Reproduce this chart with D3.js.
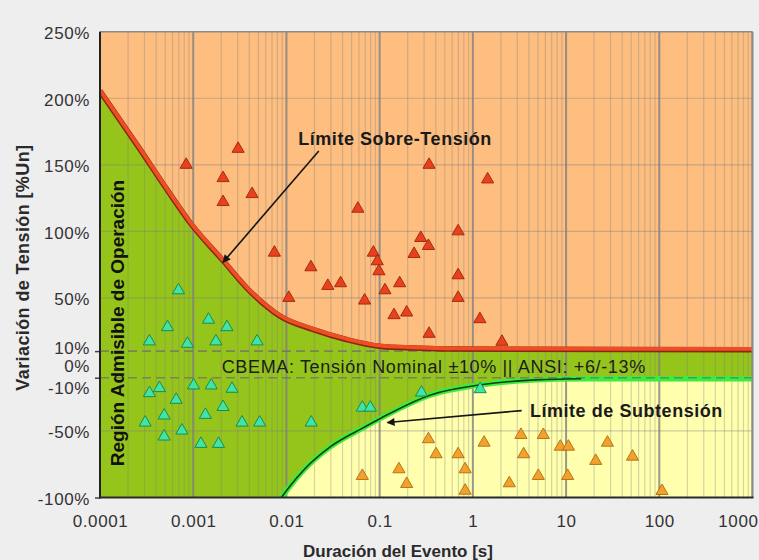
<!DOCTYPE html>
<html>
<head>
<meta charset="utf-8">
<script src="https://cdn.jsdelivr.net/npm/d3@7"></script>
<style>
  html, body { margin: 0; padding: 0; background: #eeeeee; }
  svg { display: block; font-family: "Liberation Sans", Arial, Helvetica, sans-serif; }
</style>
</head>
<body>
<svg id="chart" width="759" height="560"></svg>
<script>
// ---- axis ticks ----
const xTickValues = [0.0001, 0.001, 0.01, 0.1, 1, 10, 100, 1000];
const xTickLabels = ["0.0001", "0.001", "0.01", "0.1", "1", "10", "100", "1000"];
const yTickValues = [250, 200, 150, 100, 50, 10, 0, -10, -50, -100];
const yTickLabels = ["250%", "200%", "150%", "100%", "50%", "10%", "0%", "-10%", "-50%", "-100%"];
const yGridValues = [-50, 50, 100, 150, 200];
const toleranceBand = [10, -10];

// ---- over-voltage limit curve (duration s, % variation) ----
const overLimitDur = [0.0001, 0.000269, 0.000522, 0.000929, 0.00212, 0.0041, 0.00862, 0.0195, 0.0449, 0.1026, 0.232, 0.535, 1000];
const overLimitPct = [205.4, 161.6, 131.5, 106.4, 77.5, 54.7, 36.1, 26.1, 18.5, 13.5, 12.3, 11.5, 11];

// ---- under-voltage limit curve ----
const underLimitDur = [0.00884, 0.01104, 0.01535, 0.0297, 0.0678, 0.1026, 0.353, 1.219, 4.2, 14.5, 1000];
const underLimitPct = [-100, -91.0, -79.3, -61.8, -47.3, -40.4, -22.9, -15.3, -11.8, -10.8, -10.8];

// ---- recorded events: over-voltage ----
const overEventDur = [0.00084, 0.00303, 0.00209, 0.00209, 0.00428, 0.00743, 0.0183, 0.0106, 0.0278, 0.0381,
                      0.0584, 0.069, 0.0856, 0.0944, 0.0983, 0.114, 0.1426, 0.195, 0.164, 0.234,
                      0.276, 0.334, 0.339, 0.339, 0.695, 0.695, 0.695, 1.19, 1.44, 2.05];
const overEventPct = [150, 162, 140, 122, 128, 84, 73, 50, 59, 61,
                      117, 48, 84, 77.5, 70, 55.7, 37, 39, 61, 83,
                      95, 89, 150, 23, 100, 67, 50, 34, 139, 17];

// ---- recorded events: inside the admissible region ----
const okEventDur = [0.000695, 0.00053, 0.00146, 0.0023, 0.000339, 0.000868, 0.00175, 0.00484, 0.000339, 0.000434,
                    0.00101, 0.00156, 0.00261, 0.000656, 0.00209, 0.000488, 0.00135, 0.000305, 0.00334, 0.00516,
                    0.01844, 0.000756, 0.000488, 0.00121, 0.00187, 0.0652, 0.0794, 0.281, 1.198];
const okEventPct = [55.7, 28, 33.6, 28, 17.3, 15.5, 17.3, 17.3, -21.6, -17.8,
                    -15.8, -15.8, -18.3, -26.6, -32, -38.4, -37.9, -43.7, -43.7, -43.7,
                    -43.7, -49.7, -54.2, -59.7, -59.7, -32.5, -32.5, -21.1, -18.6];

// ---- recorded events: under-voltage ----
const underEventDur = [0.334, 1.32, 3.28, 5.7, 8.68, 10.6, 27.8, 0.403, 0.695, 3.51,
                       51.6, 20.8, 0.161, 0.826, 0.0652, 0.195, 2.46, 5.04, 10.4, 0.826, 107];
const underEventPct = [-56.2, -58.8, -53, -53, -61.8, -61.8, -58.8, -67.5, -67.5, -67.5,
                       -69.3, -72.5, -78.8, -78.8, -83.8, -89.8, -89.3, -83.8, -83.8, -94.9, -95.1];

// ---- layout ----
const W = 759, H = 560;
const plot = { left: 100, right: 752.5, top: 31.7, bottom: 497.5 };
const colors = {
  over: "#fdbe80", ok: "#95c51b", under: "#ffffae",
  overLine: "#ee4f22", overLineDark: "#8c2410",
  underHalo: "#3cec3c", underCore: "#163a12"
};

const x = d3.scaleLog().domain([1e-4, 1e3]).range([plot.left, plot.right]);
const y = d3.scaleLinear().domain([-100, 250]).range([plot.bottom, plot.top]);

const zip = (ds, ps) => ds.map((d, i) => ({ d, p: ps[i] }));
const overLimit = zip(overLimitDur, overLimitPct);
const underLimit = zip(underLimitDur, underLimitPct);

const svg = d3.select("#chart");
svg.append("rect").attr("width", W).attr("height", H).attr("fill", "#eeeeee");

const defs = svg.append("defs");
defs.append("clipPath").attr("id", "plotClip").append("rect")
  .attr("x", plot.left).attr("y", plot.top)
  .attr("width", plot.right - plot.left).attr("height", plot.bottom - plot.top);
defs.append("marker").attr("id", "arrowHead")
  .attr("viewBox", "0 0 10 10").attr("refX", 9).attr("refY", 5)
  .attr("markerWidth", 10).attr("markerHeight", 8)
  .attr("markerUnits", "userSpaceOnUse").attr("orient", "auto")
  .append("path").attr("d", "M0,0L10,5L0,10z").attr("fill", "#151515");

const body = svg.append("g").attr("clip-path", "url(#plotClip)");
const curve = d3.curveMonotoneX;

// regions
body.append("rect")
  .attr("x", plot.left).attr("y", plot.top)
  .attr("width", plot.right - plot.left).attr("height", plot.bottom - plot.top)
  .attr("fill", colors.ok);
body.append("path").datum(overLimit)
  .attr("d", d3.area().x(d => x(d.d)).y0(y(250)).y1(d => y(d.p)).curve(curve))
  .attr("fill", colors.over);
body.append("path").datum(underLimit)
  .attr("d", d3.area().x(d => x(d.d)).y0(y(-100)).y1(d => y(d.p)).curve(curve))
  .attr("fill", colors.under);

// grid
const isDecade = v => Math.abs(Math.log10(v) - Math.round(Math.log10(v))) < 1e-9;
body.append("g").selectAll("line").data(x.ticks().filter(v => !isDecade(v)))
  .join("line")
  .attr("x1", d => x(d)).attr("x2", d => x(d))
  .attr("y1", plot.top).attr("y2", plot.bottom)
  .attr("stroke", "#7d7d7d").attr("stroke-opacity", 0.32).attr("stroke-width", 1.2);
body.append("g").selectAll("line").data(yGridValues)
  .join("line")
  .attr("x1", plot.left).attr("x2", plot.right)
  .attr("y1", d => y(d)).attr("y2", d => y(d))
  .attr("stroke", "#7d7d7d").attr("stroke-opacity", 0.4).attr("stroke-width", 1.2);
body.append("g").selectAll("line").data(xTickValues)
  .join("line")
  .attr("x1", d => x(d)).attr("x2", d => x(d))
  .attr("y1", plot.top).attr("y2", plot.bottom)
  .attr("stroke", "#808080").attr("stroke-opacity", 0.8).attr("stroke-width", 2);

// under-voltage limit: green halo
const lineGen = d3.line().x(d => x(d.d)).y(d => y(d.p)).curve(curve);
body.append("path").datum(underLimit)
  .attr("d", lineGen).attr("fill", "none")
  .attr("stroke", colors.underHalo).attr("stroke-width", 5.5);

// nominal tolerance band (dashed)
body.append("g").selectAll("line").data(toleranceBand)
  .join("line")
  .attr("x1", plot.left).attr("x2", plot.right)
  .attr("y1", d => y(d)).attr("y2", d => y(d))
  .attr("stroke", "#6f6f6f").attr("stroke-opacity", 0.75)
  .attr("stroke-width", 1.6).attr("stroke-dasharray", "9,5");

// under-voltage limit: dark core along the bend
body.append("path").datum(underLimit.slice(0, underLimit.length - 1))
  .attr("d", lineGen).attr("fill", "none")
  .attr("stroke", colors.underCore).attr("stroke-width", 1.6);

// over-voltage limit
body.append("path").datum(overLimit)
  .attr("d", lineGen).attr("fill", "none")
  .attr("stroke", colors.overLineDark).attr("stroke-width", 5.5);
body.append("path").datum(overLimit)
  .attr("d", lineGen).attr("fill", "none")
  .attr("transform", "translate(0,-0.8)")
  .attr("stroke", colors.overLine).attr("stroke-width", 3.8);

// events
const tri = d3.symbol(d3.symbolTriangle, 64);
function drawEvents(data, fill, stroke) {
  body.append("g").selectAll("path").data(data)
    .join("path")
    .attr("d", tri)
    .attr("transform", d => `translate(${x(d.d)},${y(d.p)})`)
    .attr("fill", fill).attr("stroke", stroke).attr("stroke-width", 1);
}
drawEvents(zip(overEventDur, overEventPct), "#e8421d", "#a82a12");
drawEvents(zip(okEventDur, okEventPct), "#3fe4a6", "#1f8a4c");
drawEvents(zip(underEventDur, underEventPct), "#f2a22b", "#b5741a");

// frame
svg.append("line").attr("x1", plot.left).attr("x2", plot.right).attr("y1", plot.top).attr("y2", plot.top)
  .attr("stroke", "#8a8a8a").attr("stroke-width", 1.6);
svg.append("line").attr("x1", plot.right).attr("x2", plot.right).attr("y1", plot.top).attr("y2", plot.bottom)
  .attr("stroke", "#8a8a8a").attr("stroke-width", 2);

// y axis
const yLabelNudge = { "10": -5, "-10": 9 };
const yAxisG = svg.append("g").attr("transform", `translate(${plot.left},0)`)
  .call(d3.axisLeft(y).tickValues(yTickValues)
    .tickFormat((d, i) => yTickLabels[i]).tickSize(5).tickPadding(5));
yAxisG.select(".domain").remove();
yAxisG.selectAll(".tick line")
  .attr("stroke", "#444").attr("stroke-width", 1.5)
  .attr("opacity", d => (d === 10 || d === -10 || d === -100) ? 1 : 0);
yAxisG.selectAll(".tick text")
  .attr("fill", "#333").attr("font-size", 17).style("letter-spacing", "0.6px")
  .attr("y", d => 1.5 + (yLabelNudge[String(d)] || 0));

// x axis
const xAxisG = svg.append("g").attr("transform", `translate(0,${plot.bottom})`)
  .call(d3.axisBottom(x).tickValues(xTickValues)
    .tickFormat((d, i) => xTickLabels[i]).tickSize(0).tickPadding(17.5));
xAxisG.select(".domain").remove();
xAxisG.selectAll(".tick text")
  .attr("fill", "#333").attr("font-size", 17).style("letter-spacing", "0.6px");
// keep the last label inside the page edge
xAxisG.selectAll(".tick text").filter(d => d === 1000)
  .attr("text-anchor", "end").attr("x", W - plot.right - 1);

// axis lines
svg.append("line").attr("x1", plot.left).attr("x2", plot.left).attr("y1", plot.top).attr("y2", plot.bottom + 1)
  .attr("stroke", "#222").attr("stroke-width", 2);
svg.append("line").attr("x1", plot.left - 1).attr("x2", plot.right + 1).attr("y1", plot.bottom).attr("y2", plot.bottom)
  .attr("stroke", "#2a2a2a").attr("stroke-width", 2.2);

// axis titles
svg.append("text")
  .attr("transform", `translate(29,${(plot.top + plot.bottom) / 2 + 3}) rotate(-90)`)
  .attr("text-anchor", "middle").attr("font-size", 18).attr("font-weight", "bold")
  .attr("fill", "#2a2a2a").style("letter-spacing", "0.4px")
  .text("Variación de Tensión [%Un]");
svg.append("text")
  .attr("x", 398).attr("y", 557)
  .attr("text-anchor", "middle").attr("font-size", 17).attr("font-weight", "bold")
  .attr("fill", "#2a2a2a")
  .text("Duración del Evento [s]");

// annotations
svg.append("text")
  .attr("transform", `translate(123.5,323) rotate(-90)`)
  .attr("text-anchor", "middle").attr("font-size", 19).attr("font-weight", "bold")
  .attr("fill", "#111")
  .text("Región Admisible de Operación");

svg.append("text")
  .attr("x", x(0.00202)).attr("y", y(-6.5))
  .attr("font-size", 18).attr("fill", "#1c1c1c").style("letter-spacing", "0.65px")
  .text("CBEMA: Tensión Nominal ±10% || ANSI: +6/-13%");

svg.append("text")
  .attr("x", x(0.01338)).attr("y", y(164.6))
  .attr("font-size", 18).attr("font-weight", "bold").attr("fill", "#1a1a1a")
  .style("letter-spacing", "0.55px")
  .text("Límite Sobre-Tensión");
svg.append("text")
  .attr("x", x(4.09)).attr("y", y(-39.6))
  .attr("font-size", 18).attr("font-weight", "bold").attr("fill", "#1a1a1a")
  .style("letter-spacing", "0.55px")
  .text("Límite de Subtensión");

const arrows = [
  { from: [0.02225, 160.3], to: [0.002087, 76.7] },
  { from: [3.34, -34.7], to: [0.121, -43.7] }
];
svg.append("g").selectAll("line").data(arrows)
  .join("line")
  .attr("x1", d => x(d.from[0])).attr("y1", d => y(d.from[1]))
  .attr("x2", d => x(d.to[0])).attr("y2", d => y(d.to[1]))
  .attr("stroke", "#151515").attr("stroke-width", 1.6)
  .attr("marker-end", "url(#arrowHead)");
</script>
</body>
</html>
